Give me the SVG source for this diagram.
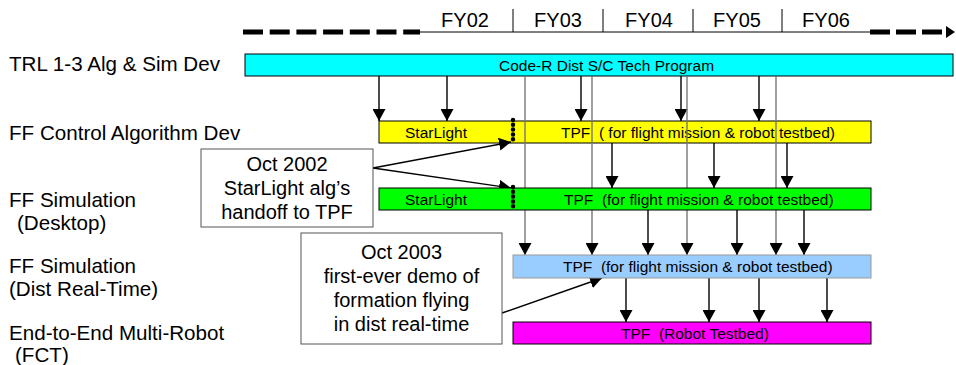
<svg xmlns="http://www.w3.org/2000/svg" width="956" height="365" viewBox="0 0 956 365">
<style>
text{font-family:"Liberation Sans",Arial,sans-serif;fill:#000}
.lbl{font-size:20.6px}
.fy{font-size:20px;text-anchor:middle}
.bt{font-size:15.5px}
.box{font-size:20px;text-anchor:middle}
.bar{stroke:#000;stroke-width:1}
.arr{stroke:#000;stroke-width:1.4;fill:none;marker-end:url(#ah)}
.gry{stroke:#777;stroke-width:1.4;fill:none;marker-end:url(#ah)}
.dot{stroke:#000;stroke-width:4.5;stroke-linecap:round;stroke-dasharray:0 4.8;fill:none}
</style>
<defs>
<marker id="ah" markerWidth="13" markerHeight="13" refX="12" refY="6.5" orient="auto" markerUnits="userSpaceOnUse">
<path d="M0,0 L12,6.5 L0,13 z" fill="#000"/>
</marker>
</defs>
<rect width="956" height="365" fill="#fff"/>

<g id="timeline">
<line x1="243" y1="32" x2="420" y2="32" stroke="#000" stroke-width="5" stroke-dasharray="20 6.7"/>
<line x1="420" y1="32" x2="870" y2="32" stroke="#000" stroke-width="1"/>
<line x1="870" y1="32" x2="944" y2="32" stroke="#000" stroke-width="5" stroke-dasharray="20 6"/>
<path d="M946,26 L955,32 L946,38 z" fill="#000"/>
<g stroke="#000" stroke-width="1">
<line x1="513" y1="9" x2="513" y2="32"/>
<line x1="603" y1="9" x2="603" y2="32"/>
<line x1="693" y1="9" x2="693" y2="32"/>
<line x1="782" y1="9" x2="782" y2="32"/>
</g>
<text class="fy" x="465" y="27">FY02</text>
<text class="fy" x="558" y="27">FY03</text>
<text class="fy" x="649" y="27">FY04</text>
<text class="fy" x="737" y="27">FY05</text>
<text class="fy" x="826" y="27">FY06</text>
</g>

<g id="row-labels" class="lbl">
<text x="9" y="71">TRL 1-3 Alg &amp; Sim Dev</text>
<text x="9" y="140">FF Control Algorithm Dev</text>
<text x="9" y="207">FF Simulation</text>
<text x="17" y="230">(Desktop)</text>
<text x="9" y="273">FF Simulation</text>
<text x="9" y="296">(Dist Real-Time)</text>
<text x="9" y="340">End-to-End Multi-Robot</text>
<text x="15" y="362">(FCT)</text>
</g>

<g id="bar-trl">
<rect class="bar" x="245" y="54" width="708" height="22" fill="#00FFFF"/>
<text class="bt" x="499" y="70.5">Code-R Dist S/C Tech Program</text>
</g>

<g id="bar-control">
<rect class="bar" x="379" y="121" width="492" height="22" fill="#FFFF00"/>
<text class="bt" x="405" y="137.5">StarLight</text>
<text class="bt" x="561" y="137.5" xml:space="preserve">TPF  ( for flight mission &amp; robot testbed)</text>
</g>

<g id="connectors">
<line class="arr" x1="379" y1="76" x2="379" y2="121"/>
<line class="arr" x1="447" y1="76" x2="447" y2="121"/>
<line class="arr" x1="581" y1="76" x2="581" y2="121"/>
<line class="arr" x1="681" y1="76" x2="681" y2="121"/>
<line class="arr" x1="759" y1="76" x2="759" y2="121"/>
<line class="gry" x1="525" y1="76" x2="525" y2="255"/>
<line class="gry" x1="592" y1="76" x2="592" y2="255"/>
<line class="gry" x1="687" y1="76" x2="687" y2="255"/>
<line class="gry" x1="776" y1="76" x2="776" y2="255"/>
<line class="arr" x1="612" y1="143" x2="612" y2="188"/>
<line class="arr" x1="714" y1="143" x2="714" y2="188"/>
<line class="arr" x1="787" y1="143" x2="787" y2="188"/>
<line class="arr" x1="648" y1="210" x2="648" y2="255"/>
<line class="arr" x1="737" y1="210" x2="737" y2="255"/>
<line class="arr" x1="804" y1="210" x2="804" y2="255"/>
<line class="arr" x1="626" y1="278" x2="626" y2="322"/>
<line class="arr" x1="709" y1="278" x2="709" y2="322"/>
<line class="arr" x1="759" y1="278" x2="759" y2="322"/>
<line class="arr" x1="827" y1="278" x2="827" y2="322"/>
<line class="arr" x1="373" y1="168" x2="511" y2="142"/>
<line class="arr" x1="373" y1="168" x2="511" y2="188"/>
<line class="arr" x1="502" y1="313" x2="602" y2="278"/>
</g>

<g id="bar-desktop">
<rect class="bar" x="379" y="188" width="492" height="22" fill="#00FF00"/>
<text class="bt" x="405" y="204.5">StarLight</text>
<text class="bt" x="564" y="204.5" xml:space="preserve">TPF  (for flight mission &amp; robot testbed)</text>
</g>

<g id="bar-realtime">
<rect x="513" y="255" width="358" height="23" fill="#99CCFF" stroke="#999" stroke-width="1"/>
<text class="bt" x="563" y="272" xml:space="preserve">TPF  (for flight mission &amp; robot testbed)</text>
</g>

<g id="bar-fct">
<rect class="bar" x="513" y="322" width="358" height="22" fill="#FF00FF"/>
<text class="bt" x="621" y="338.5" xml:space="preserve">TPF  (Robot Testbed)</text>
</g>

<g id="handoff-markers">
<line class="dot" x1="513" y1="120" x2="513" y2="143"/>
<line class="dot" x1="513" y1="187" x2="513" y2="210"/>
</g>

<g id="note-2002">
<rect x="201" y="149" width="172" height="78" fill="#fff" stroke="#555" stroke-width="1"/>
<text class="box" x="287" y="170.5">Oct 2002</text>
<text class="box" x="287" y="195">StarLight alg’s</text>
<text class="box" x="287" y="219">handoff to TPF</text>
</g>

<g id="note-2003">
<rect x="301" y="233" width="201" height="111" fill="#fff" stroke="#555" stroke-width="1"/>
<text class="box" x="401.5" y="259">Oct 2003</text>
<text class="box" x="401.5" y="283">first-ever demo of</text>
<text class="box" x="401.5" y="307">formation flying</text>
<text class="box" x="401.5" y="331">in dist real-time</text>
</g>
</svg>
